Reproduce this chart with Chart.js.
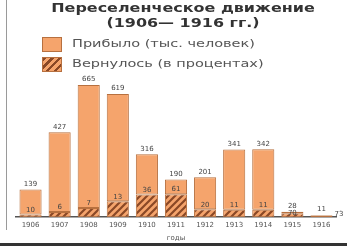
<!DOCTYPE html>
<html>
<head>
<meta charset="utf-8">
<script src="https://cdn.jsdelivr.net/npm/chart.js@4.4.1/dist/chart.umd.min.js"></script>
<style>
  body { margin: 0; background: #fff; font-family: "DejaVu Sans", sans-serif; }
  #wrap { position: relative; width: 347px; height: 246px; overflow: hidden; background: #fff; }
  #wrap canvas { position: absolute; left: 0; top: 0; }
  .edge { position: absolute; left: 6px; top: 0; width: 1px; height: 230px; background: #9a9a9a; }
  .foot { position: absolute; left: 0; bottom: 0; width: 347px; height: 3px; background: #333; }
  .title { position: absolute; left: 183px; font-weight: bold; font-size: 12px; color: #333; white-space: nowrap;
           transform: translateX(-50%) scaleX(1.33); transform-origin: center; }
  .leg { position: absolute; left: 42px; font-size: 10px; color: #555; }
  .leg span.box { position: absolute; left: 0; top: 0; width: 20px; height: 15px; border: 1px solid #b7703f; box-sizing: border-box; }
  .leg span.txt { position: absolute; left: 30px; top: 1px; white-space: nowrap; transform: scaleX(1.45); transform-origin: left; }
</style>
</head>
<body>
<div id="wrap">
  <canvas id="canvas" width="347" height="246"></canvas>
  <div class="edge"></div>
  <div class="foot"></div>
  <div class="title" style="top:1px">Переселенческое движение</div>
  <div class="title" style="top:16px">(1906— 1916 гг.)</div>
  <div class="leg" style="top:37px"><span class="box" style="background:#f5a46c"></span><span class="txt">Прибыло (тыс. человек)</span></div>
  <div class="leg" style="top:57px"><span class="box" style="background:repeating-linear-gradient(-45deg,#f5a46c 0 3px,#8a4826 3px 5.5px)"></span><span class="txt">Вернулось (в процентах)</span></div>
</div>
<script>
const years = ['1906', '1907', '1908', '1909', '1910', '1911', '1912', '1913', '1914', '1915', '1916'];
const arrived = [139, 427, 665, 619, 316, 190, 201, 341, 342, 28, 11];   // тыс. человек
const returnedPct = [10, 6, 7, 13, 36, 61, 20, 11, 11, 70, 73];          // проценты

const returnedPart = arrived.map((v, i) => v * returnedPct[i] / 100);
const restPart = arrived.map((v, i) => v - returnedPart[i]);

// штриховка для "вернулось"
function makeHatch() {
    const c = document.createElement('canvas');
    c.width = 7; c.height = 7;
    const g = c.getContext('2d');
    g.fillStyle = '#f5a46c';
    g.fillRect(0, 0, 7, 7);
    g.strokeStyle = '#8a4826';
    g.lineWidth = 2.2;
    g.beginPath();
    g.moveTo(-1, 8); g.lineTo(8, -1);
    g.moveTo(-4, 4); g.lineTo(4, -4);
    g.moveTo(3, 11); g.lineTo(11, 3);
    g.stroke();
    return g.createPattern(c, 'repeat');
}

const labels = {
    id: 'labels',
    afterDatasetsDraw(chart) {
        const ctx = chart.ctx;
        const low = chart.getDatasetMeta(0).data;
        const top = chart.getDatasetMeta(1).data;
        ctx.save();
        ctx.textAlign = 'center';
        ctx.textBaseline = 'bottom';
        ctx.font = '7px "DejaVu Sans"';
        ctx.fillStyle = '#444';
        top.forEach((bar, i) => {
            ctx.fillText(arrived[i], bar.x, bar.y - 2);
        });
        low.forEach((bar, i) => {
            let y = bar.y - 1;
            const barTop = top[i].y;
            if (y - 8 < barTop) y = Math.max(barTop + 9, y);
            if (i === years.length - 1) {
                ctx.textAlign = 'left';
                ctx.fillText(returnedPct[i], bar.x + bar.width / 2 + 2, bar.base);
                ctx.textAlign = 'center';
            } else if (i === years.length - 2) {
                ctx.fillText(returnedPct[i], bar.x, bar.base - 1);
            } else {
                ctx.fillText(returnedPct[i], bar.x, y);
            }
        });
        ctx.restore();
    }
};

new Chart(document.getElementById('canvas').getContext('2d'), {
    type: 'bar',
    data: {
        labels: years,
        datasets: [
            {
                label: 'Вернулось (в процентах)',
                data: returnedPart,
                backgroundColor: makeHatch(),
                borderColor: '#b7703f',
                borderWidth: 1,
                borderSkipped: false
            },
            {
                label: 'Прибыло (тыс. человек)',
                data: restPart,
                backgroundColor: '#f5a46c',
                borderColor: '#b7703f',
                borderWidth: 1,
                borderSkipped: false
            }
        ]
    },
    options: {
        responsive: false,
        animation: false,
        events: [],
        layout: { padding: { left: 16, right: 11, top: 78, bottom: 4 } },
        plugins: { legend: { display: false }, tooltip: { enabled: false } },
        datasets: { bar: { categoryPercentage: 1, barPercentage: 0.76 } },
        scales: {
            x: {
                stacked: true,
                grid: { display: false, drawTicks: false },
                border: { color: '#555', width: 1.5 },
                ticks: { font: { size: 7, family: 'DejaVu Sans' }, color: '#555', padding: 4, maxRotation: 0 },
                title: { display: true, text: 'годы', font: { size: 7, family: 'DejaVu Sans' }, color: '#555', padding: 0 }
            },
            y: { stacked: true, display: false, min: 0, max: 700 }
        }
    },
    plugins: [labels]
});
</script>
</body>
</html>
